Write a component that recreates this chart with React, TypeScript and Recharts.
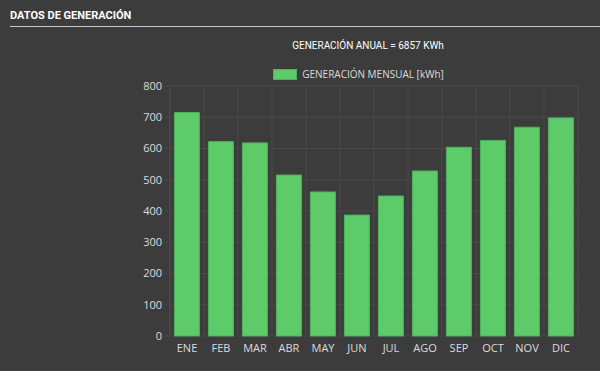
import { Bar, BarChart, CartesianGrid, Legend, XAxis, YAxis } from "recharts";

const months = ["ENE", "FEB", "MAR", "ABR", "MAY", "JUN", "JUL", "AGO", "SEP", "OCT", "NOV", "DIC"];
const generation = [715, 622, 618, 515, 461, 387, 448, 528, 604, 626, 668, 698];
const yTicks = [0, 100, 200, 300, 400, 500, 600, 700, 800];
const boundaryTicks = [0, 1, 2, 3, 4, 5, 6, 7, 8, 9, 10, 11, 12];

const BG = "#3c3c3c";
const GRID = "#484848";
const GREEN = "#5dcb69";
const TICK = { fontSize: 11, fill: "#dcdcdc", fontFamily: "Open Sans, sans-serif" };

const data = months.map((m, i) => ({ month: m, idx: i + 0.5, kwh: generation[i] }));

function LegendBox() {
  return (
    <div
      style={{
        display: "flex",
        alignItems: "center",
        justifyContent: "center",
        paddingLeft: 117,
        fontFamily: "Open Sans, sans-serif",
        fontSize: 10,
        color: "#dcdcdc",
      }}
    >
      <span
        style={{
          width: 22,
          height: 9,
          background: GREEN,
          border: "1px solid #4fb35a",
          marginRight: 5,
          display: "inline-block",
        }}
      />
      GENERACIÓN MENSUAL [kWh]
    </div>
  );
}

export default function App() {
  return (
    <div
      style={{
        position: "fixed",
        left: 0,
        top: 0,
        width: 600,
        height: 371,
        background: BG,
        overflow: "hidden",
      }}
    >
      <div
        style={{
          position: "absolute",
          left: 10,
          top: 9,
          fontFamily: "Roboto, sans-serif",
          fontWeight: 700,
          fontSize: 11,
          color: "#ffffff",
        }}
      >
        DATOS DE GENERACIÓN
      </div>
      <div
        style={{
          position: "absolute",
          left: 10,
          right: 0,
          top: 26,
          height: 1,
          background: "#c8c8c8",
        }}
      />
      <div
        style={{
          position: "absolute",
          left: 0,
          width: 600,
          top: 40,
          paddingLeft: 136,
          boxSizing: "border-box",
          textAlign: "center",
          fontFamily: "Roboto, sans-serif",
          fontSize: 10,
          color: "#ffffff",
        }}
      >
        GENERACIÓN ANUAL = 6857 KWh
      </div>
      <BarChart
        width={600}
        height={371}
        data={data}
        margin={{ top: 86, right: 22, left: 0, bottom: 15 }}
        barCategoryGap="13%"
      >
        <CartesianGrid stroke={GRID} xAxisId="grid" />
        <XAxis
          xAxisId="grid"
          dataKey="idx"
          type="number"
          domain={[0, 12]}
          ticks={boundaryTicks}
          tickFormatter={() => ""}
          height={0}
          stroke={GRID}
          tickSize={6}
        />
        <XAxis
          xAxisId="cat"
          dataKey="month"
          axisLine={false}
          tickLine={false}
          tick={TICK}
          interval={0}
          height={20}
        />
        <YAxis
          domain={[0, 800]}
          ticks={yTicks}
          width={170}
          tick={TICK}
          stroke={GRID}
          tickSize={5}
          tickMargin={3}
        />
        <Legend
          verticalAlign="middle"
          align="center"
          wrapperStyle={{ top: 67, left: 0, width: 600 }}
          content={() => <LegendBox />}
        />
        <Bar
          xAxisId="cat"
          dataKey="kwh"
          fill={GREEN}
          stroke="#4fb35a"
          strokeWidth={1}
          isAnimationActive={false}
        />
      </BarChart>
    </div>
  );
}
